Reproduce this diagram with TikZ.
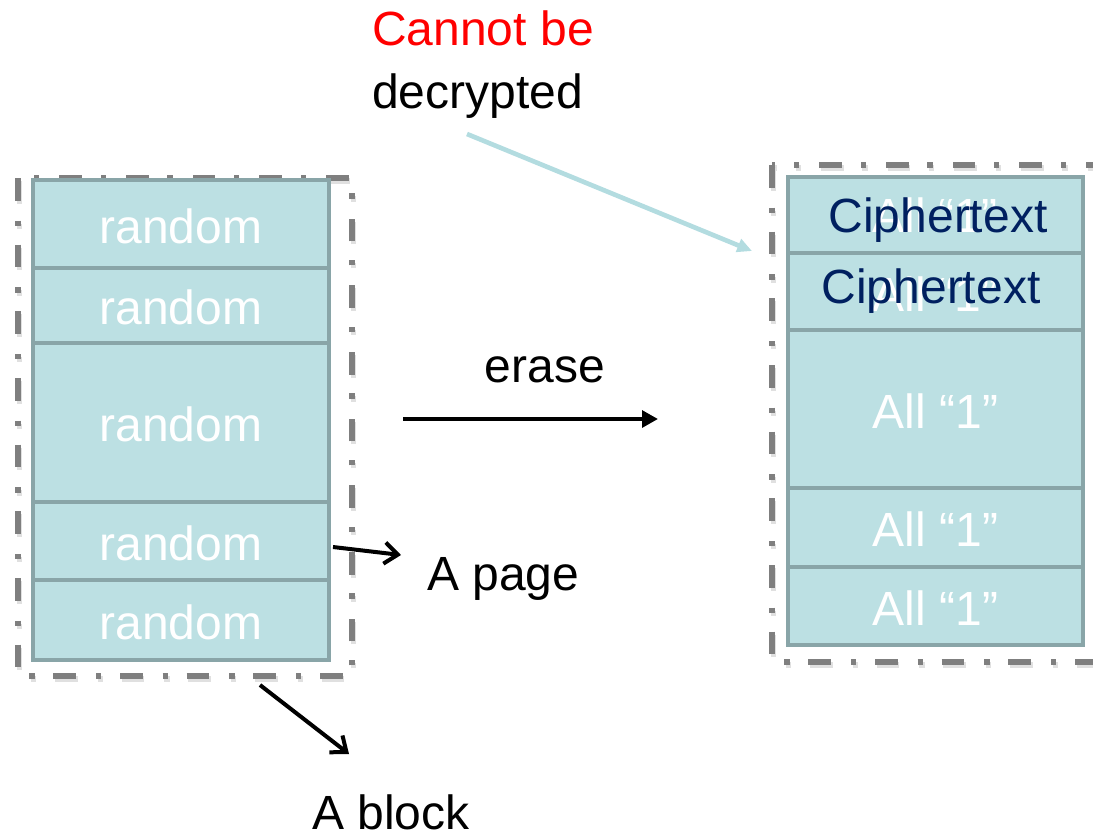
\documentclass[tikz,border=0pt]{standalone}
\usepackage{fontspec}
\setmainfont{Liberation Sans}
\usetikzlibrary{arrows.meta}
\definecolor{pagefill}{HTML}{BCE0E3}
\definecolor{pageedge}{HTML}{89A5A8}
\definecolor{dashgray}{HTML}{7F7F7F}
\definecolor{shadowgray}{HTML}{E0E0E0}
\definecolor{navy}{HTML}{002060}
\definecolor{lblue}{HTML}{B3DCE0}
\begin{document}
\begin{tikzpicture}[x=0.75pt,y=-0.75pt,
  bigtext/.style={font=\fontsize{36}{43}\selectfont},
  pagebox/.style={draw=pageedge,fill=pagefill,line width=3pt,inner sep=0pt,outer sep=0pt,
    minimum width=222pt,text=white,bigtext,text height=28.5pt,text depth=0pt},
  rpagebox/.style={pagebox,minimum width=221.25pt},
  blockline/.style={draw=dashgray,line width=3.8pt,dash pattern=on 17pt off 15pt on 4pt off 14pt},
  blockshadow/.style={draw=shadowgray,line width=3.8pt,dash pattern=on 17pt off 15pt on 4pt off 14pt},
  pointer/.style={draw=black,line width=3pt,-{Straight Barb[length=10pt,width=16pt,line width=3pt]}},
  label/.style={bigtext,inner sep=0pt}]
\useasboundingbox (0,0) rectangle (1093,833);
\clip (0,0) rectangle (1093,833);

% block outlines (dash-dot, with a soft shadow)
\draw[blockshadow] (19.5,181) rectangle (353.5,679);
\draw[blockline] (18,178) rectangle (352,676);
\draw[blockshadow] (773.5,168) rectangle (1111.5,665);
\draw[blockline] (772,165) rectangle (1110,662);

% left block pages
\node[pagebox,minimum height=66pt]     (L1) at (181,224)   {random};
\node[pagebox,minimum height=56.25pt]  (L2) at (181,305.5) {random};
\node[pagebox,minimum height=119.25pt] (L3) at (181,422.5) {random};
\node[pagebox,minimum height=58.5pt]   (L4) at (181,541)   {random};
\node[pagebox,minimum height=60pt]     (L5) at (181,620)   {random};

% right block pages
\node[rpagebox,minimum height=57pt]    (R1) at (935.5,215)   {};
\node[rpagebox,minimum height=57.75pt] (R2) at (935.5,291.5) {};
\node[rpagebox,minimum height=118.5pt] (R3) at (935.5,409)   {All “1”};
\node[rpagebox,minimum height=59.25pt] (R4) at (935.5,527.5) {All “1”};
\node[rpagebox,minimum height=58.5pt]  (R5) at (935.5,606)   {All “1”};
\node[label,anchor=base,text=white] (R1a) at (935,232) {All “1”};
\node[label,anchor=base,text=white] (R2a) at (935,311) {All “1”};
\node[label,anchor=base,text=navy]  (R1c) at (938,232) {Ciphertext};
\node[label,anchor=base,text=navy]  (R2c) at (931,303) {Ciphertext};

% labels
\node[label,anchor=base west,text=red] (cannot) at (372,45) {Cannot be};
\node[label,anchor=base west] (decrypted) at (372,108) {decrypted};
\node[label,anchor=base] (erase) at (545,382) {erase};
\node[label,anchor=base west] (apage) at (427,590) {A page};
\node[label,anchor=base west] (ablock) at (312,829) {A block};

% connectors
\coordinate (eraseS) at (403,419);
\coordinate (eraseE) at (658,419);
\draw[line width=3pt,-{Triangle[length=12pt,width=12.5pt]}] (eraseS) -- (eraseE);

\coordinate (pageS) at (333,547);
\coordinate (pageE) at (401,555);
\draw[pointer] (pageS) -- (pageE);

\coordinate (blockS) at (260,685);
\coordinate (blockE) at (349,754);
\draw[pointer] (blockS) -- (blockE);

\coordinate (decS) at (467,134);
\coordinate (decE) at (752,251);
\draw[draw=lblue,line width=3.5pt,-{Triangle[length=11pt,width=10pt]}] (decS) -- (decE);
\end{tikzpicture}
\end{document}
